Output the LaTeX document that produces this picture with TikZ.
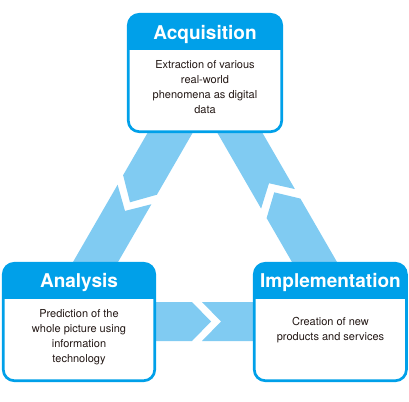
\documentclass[tikz,border=0pt]{standalone}
\usepackage{fontspec}
\setmainfont{TeX Gyre Heros}
\definecolor{hdr}{HTML}{00A0E9}
\definecolor{band}{HTML}{80CBF2}
\definecolor{ink}{HTML}{231815}
\tikzset{
  bandpiece/.style={fill=band, draw=none},
  panelfill/.style={fill=white, rounded corners=11pt},
  panelline/.style={draw=hdr, line width=2.7pt, rounded corners=11pt},
  title/.style={font=\fontsize{19}{22}\selectfont\bfseries, text=white, anchor=base, inner sep=0pt},
  body/.style={font=\fontsize{11}{15}\selectfont, text=ink, align=center, inner sep=0pt},
}
\newcommand\drawpanel[5]{%
  \fill[panelfill] (#1,#2) rectangle (#3,#4);
  \begin{scope}
    \clip[rounded corners=11pt] (#1,#2) rectangle (#3,#4);
    \fill[hdr] (#1,#2) rectangle (#3,#5);
  \end{scope}
  \draw[panelline] (#1,#2) rectangle (#3,#4);
}
\begin{document}
\begin{tikzpicture}[x=1pt,y=-1pt]
\useasboundingbox (0,0) rectangle (409,401);
% horizontal band (Analysis -> Implementation)
\fill[bandpiece] (140,302) -- (192,302) -- (211,321.5) -- (192,341) -- (140,341) -- cycle;
\fill[bandpiece] (202,302) -- (270,302) -- (270,341) -- (202,341) -- (221,321.5) -- cycle;
% left band (Acquisition -> Analysis)
\fill[bandpiece] (163.11,105.93) -- (196.89,125.43) -- (156.89,194.71) -- (130,202.28) -- (123.11,175.21) -- cycle;
\fill[bandpiece] (117.61,184.74) -- (125,210.94) -- (151.39,204.24) -- (101.89,289.97) -- (68.11,270.47) -- cycle;
% right band (Implementation -> Acquisition)
\fill[bandpiece] (246.89,105.93) -- (213.11,125.43) -- (261.11,208.57) -- (269,183.23) -- (294.89,189.07) -- cycle;
\fill[bandpiece] (266.61,218.09) -- (274.25,192.32) -- (300.39,198.59) -- (341.89,270.47) -- (308.11,289.97) -- cycle;
% panels
\drawpanel{128.3}{14.3}{281.7}{131.7}{50}
\drawpanel{3.3}{263.3}{154.7}{380.7}{299}
\drawpanel{254.3}{263.3}{406.4}{380.7}{299}
% titles
\node[title] (acqt) at (205,39.3) {Acquisition};
\node[title] (anat) at (79,287.3) {Analysis};
\node[title] (impt) at (330.5,287.3) {Implementation};
% bodies
\node[body] (acqb) at (205,87.5) {Extraction of various\\real-world\\phenomena as digital\\data};
\node[body] (anab) at (79,337.5) {Prediction of the\\whole picture using\\information\\technology};
\node[body] (impb) at (330.5,329.8) {Creation of new\\products and services};
\end{tikzpicture}
\end{document}
